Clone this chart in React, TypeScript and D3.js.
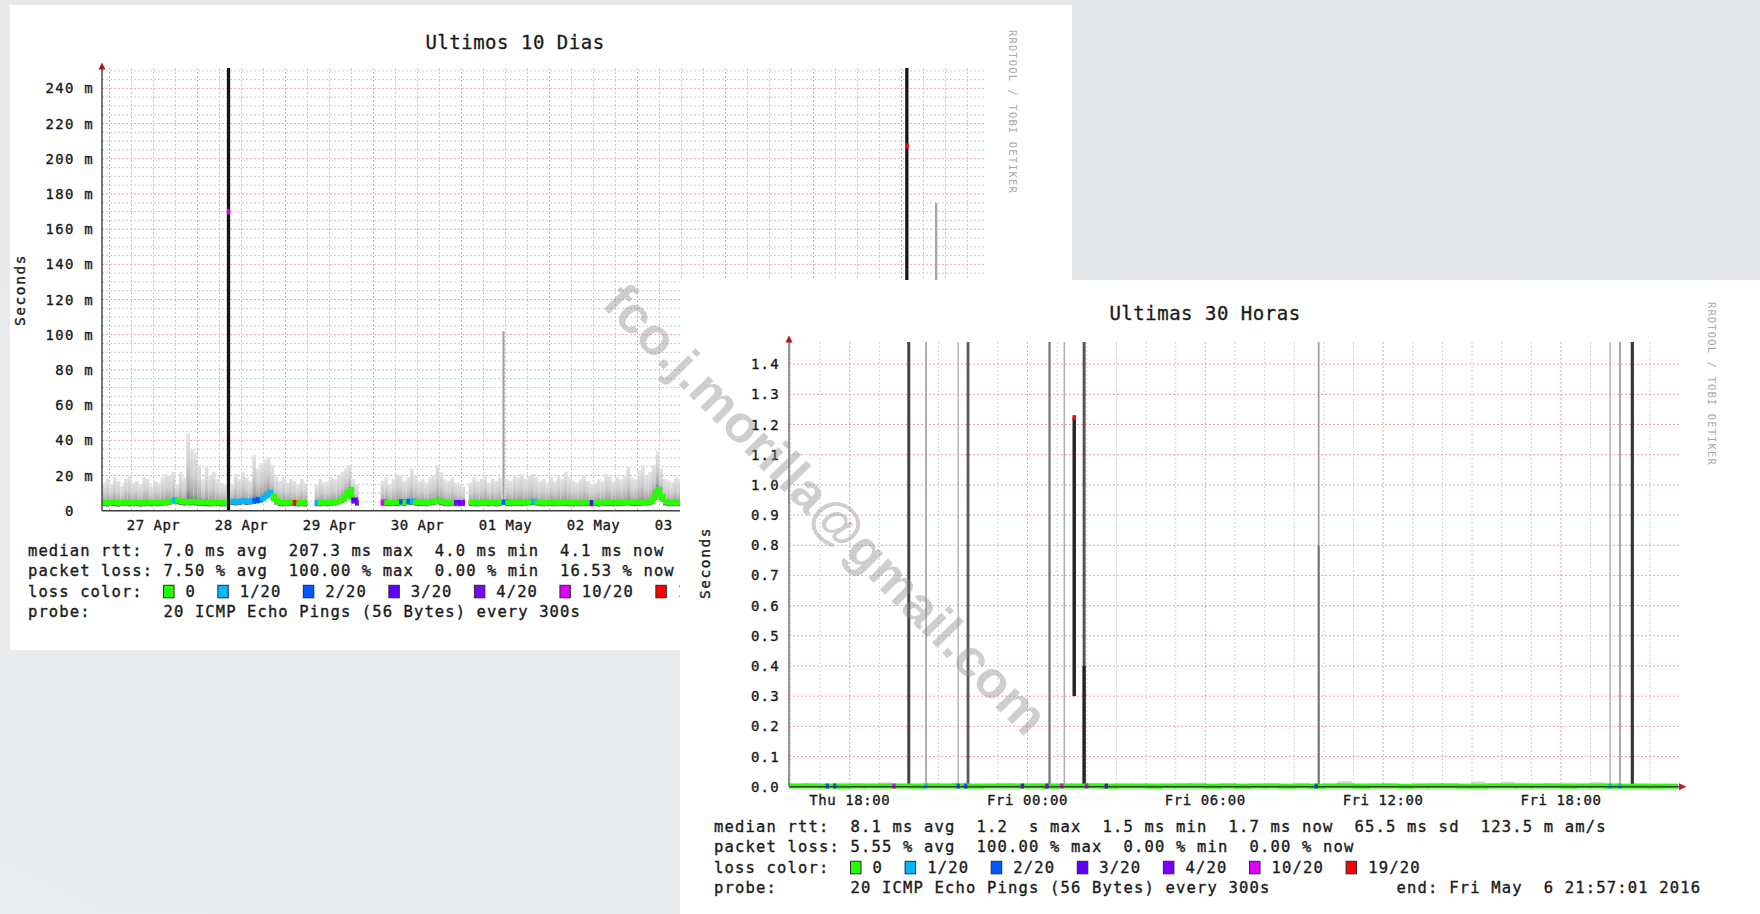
import React from 'react';
import * as d3 from 'd3';

const MONO = "'DejaVu Sans Mono', 'Liberation Mono', monospace";

// ---------- shared legend data ----------
const lossLabels = ['0', '1/20', '2/20', '3/20', '4/20', '10/20', '19/20'];
const lossColors = ['#26ff00', '#00b8ff', '#0059ff', '#5e00ff', '#7e00ff', '#dd00ff', '#ff0000'];

// ---------- "Ultimos 10 Dias" : hourly samples, milliseconds ----------
const tenDayStart = new Date(Date.UTC(2016, 3, 26, 21, 57, 1));
const tenDayEnd = new Date(Date.UTC(2016, 4, 6, 21, 57, 1));
const tenDayTop = 251.6;
const tenDayTicks = [0, 20, 40, 60, 80, 100, 120, 140, 160, 180, 200, 220, 240];
const tenDayMedian: (number | null)[] = [
  4.6, 4.4, 4.7, 4.5, 4.3, 4.6, 4.8, 4.4, 4.5, 4.6, 4.3, 4.5, 4.7, 4.4, 4.6, 4.5, 4.8, 5.0, 5.4, 6.0, 5.6, 5.2, 4.9, 5.1,
  5.2, 5.0, 4.8, 4.6, 4.5, 4.4, 4.5, 4.6, 4.4, 4.5, 170, 5.2, 5.0, 5.3, 5.6, 5.2, 5.5, 5.8, 6.2, 7.0, 8.5, 10.2, 8.0, 5.5,
  4.6, 4.4, 4.5, 4.7, 4.6, 4.4, 4.5, 4.4, null, null, 4.6, 4.5, 4.7, 4.5, 4.8, 5.0, 5.5, 6.5, 9.0, 12.0, 6.0, 4.8, null, null,
  null, null, null, null, 4.8, 4.6, 4.5, 4.7, 4.6, 5.0, 4.8, 5.2, 5.4, 4.9, 4.6, 4.8, 4.5, 5.0, 5.3, 5.6, 5.0, 4.6, 4.5, 4.7,
  4.6, 4.5, 4.6, null, 4.7, 4.5, 4.4, 4.6, 4.8, 4.5, 4.7, 4.4, 4.6, 4.8, 4.6, 4.5, 4.7, 4.8, 4.6, 4.9, 5.0, 5.2, 4.9, 4.6,
  4.5, 4.6, 4.7, 4.5, 4.6, 4.8, 4.7, 4.5, 4.4, 4.6, 4.5, 4.7, 4.6, 4.5, 4.6, 4.4, 4.6, 4.8, 4.7, 4.5, 4.6, 4.7, 4.9, 5.0,
  4.8, 4.6, 4.7, 4.9, 5.0, 5.2, 7.5, 12.0, 8.0, 5.0, 4.6, 4.5, 4.7, 4.6, 4.5, 4.7, 4.6, 4.8, 4.5, 4.6, 4.7, 4.5, 4.6, 4.8,
  4.6, 4.5, 4.7, 4.4, 4.6, 4.8, 4.5, 4.6, 4.4, 4.7, 4.5, 4.6, 4.8, 5.1, 4.7, 4.5, 4.6, 4.4, 4.5, 4.7, 4.6, 4.5, 4.8, 4.6,
  4.5, 4.7, 4.6, 4.4, 4.5, 4.8, 4.6, 4.5, 4.7, 4.6, 4.4, 4.5, 4.6, 4.7, 4.5, 4.8, 4.6, 4.4, 4.5, 4.6, 4.7, 4.5, 4.6, 4.4,
  4.5, 4.7, 4.6, 207.3, 4.8, 4.5, 4.4, 4.6, 4.5, 4.7, 4.6, 4.5, 4.4, 4.6, 4.5, 4.3, 4.4, 4.2, 4.3, 4.1, 4.2, 4.1, 4.0, 4.1,
];
const tenDayMax: (number | null)[] = [
  16, 18, 15, 19, 17, 14, 18, 20, 16, 17, 15, 19, 18, 14, 17, 16, 19, 21, 20, 22, 15, 22, 19, 44,
  35, 33, 26, 18, 25, 20, 22, 18, 16, 15, 300, 15, 21, 18, 22, 19, 17, 32, 24, 27, 29, 30, 26, 20,
  17, 19, 16, 18, 17, 15, 18, 16, null, null, 15, 18, 16, 17, 19, 18, 20, 22, 24, 26, 18, 15, null, null,
  null, null, null, null, 17, 19, 15, 18, 21, 20, 17, 19, 24, 20, 17, 18, 16, 19, 20, 26, 22, 18, 17, 19,
  16, 15, 14, null, 16, 19, 17, 18, 20, 16, 18, 17, 19, 102, 18, 17, 20, 19, 21, 18, 20, 21, 19, 17,
  18, 16, 19, 17, 20, 18, 22, 19, 17, 16, 18, 20, 17, 15, 16, 18, 17, 21, 20, 17, 19, 18, 20, 25,
  19, 18, 23, 26, 20, 22, 26, 34, 24, 18, 17, 16, 19, 18, 17, 19, 16, 18, 20, 17, 18, 19, 16, 18,
  17, 18, 16, 19, 20, 17, 18, 21, 16, 18, 19, 17, 16, 20, 18, 17, 19, 16, 18, 20, 17, 19, 18, 16,
  18, 17, 19, 16, 18, 20, 17, 18, 16, 19, 17, 18, 20, 16, 17, 19, 18, 16, 18, 17, 19, 18, 16, 17,
  18, 16, 19, 300, 17, 18, 16, 19, 17, 18, 16, 175, 17, 16, 18, 17, 15, 16, 14, 15, 16, 14, 15, 14,
];
const tenDayLoss: number[] = [
  0, 0, 0, 0, 0, 0, 0, 0, 0, 0, 0, 0, 0, 0, 0, 0, 0, 0, 0, 1, 0, 0, 0, 0,
  0, 0, 0, 0, 0, 0, 0, 0, 0, 0, 5, 1, 1, 1, 1, 1, 1, 2, 2, 1, 1, 1, 0, 0,
  0, 0, 0, 0, 6, 0, 0, 0, 0, 0, 1, 0, 0, 0, 0, 0, 0, 0, 0, 0, 3, 4, 0, 0,
  0, 0, 0, 0, 5, 0, 0, 0, 0, 2, 0, 2, 1, 0, 0, 0, 0, 0, 0, 0, 0, 0, 0, 0,
  4, 3, 4, 0, 0, 0, 0, 0, 0, 0, 0, 0, 0, 2, 0, 0, 0, 0, 0, 0, 0, 1, 0, 0,
  0, 0, 0, 0, 0, 0, 0, 0, 0, 0, 0, 0, 0, 3, 0, 0, 0, 0, 0, 0, 0, 0, 0, 0,
  0, 0, 0, 0, 0, 0, 0, 0, 0, 0, 0, 0, 0, 0, 0, 0, 0, 0, 0, 0, 0, 0, 0, 0,
  0, 0, 0, 0, 0, 0, 0, 0, 0, 0, 0, 0, 0, 1, 0, 0, 0, 0, 0, 0, 0, 0, 0, 0,
  0, 0, 0, 0, 0, 0, 0, 2, 0, 0, 0, 0, 0, 0, 0, 0, 0, 0, 0, 0, 0, 0, 0, 0,
  0, 0, 0, 6, 0, 0, 0, 0, 0, 0, 0, 0, 0, 0, 0, 0, 0, 0, 0, 0, 0, 0, 0, 3,
];
const tenDayStats = [
  'median rtt:  7.0 ms avg  207.3 ms max  4.0 ms min  4.1 ms now',
  'packet loss: 7.50 % avg  100.00 % max  0.00 % min  16.53 % now',
];
const tenDayProbe = 'probe:       20 ICMP Echo Pings (56 Bytes) every 300s';

// ---------- "Ultimas 30 Horas" : 30-min samples (ms), 5-min event slots ----------
const thirtyStart = new Date(Date.UTC(2016, 4, 5, 15, 57, 1));
const thirtyEnd = new Date(Date.UTC(2016, 4, 6, 21, 57, 1));
const thirtyTop = 1.4735;
const thirtyTicks = [0, 0.1, 0.2, 0.3, 0.4, 0.5, 0.6, 0.7, 0.8, 0.9, 1.0, 1.1, 1.2, 1.3, 1.4];
const thirtyMedian = [
  2.1, 2.0, 2.3, 1.9, 2.2, 2.4, 2.0, 2.1, 1.8, 2.3, 2.2, 2.0, 1.9, 2.4, 2.1, 2.0, 2.2, 1.9, 2.3, 2.1,
  2.0, 1.8, 2.2, 2.1, 1.9, 2.0, 2.3, 2.1, 1.8, 2.0, 1.9, 2.1, 2.2, 1.8, 2.0, 1.9, 2.1, 2.0, 1.8, 2.2,
  2.0, 1.9, 2.1, 2.3, 2.0, 1.8, 1.9, 2.1, 2.0, 2.2, 2.4, 2.1, 1.9, 2.0, 2.2, 1.8, 1.9, 1.7, 1.8, 1.7,
];
const thirtyMax = [
  11, 13, 10, 14, 12, 11, 15, 10, 12, 13, 11, 14, 12, 10, 13, 11, 12, 14, 10, 11,
  13, 12, 11, 10, 12, 11, 13, 14, 11, 12, 11, 10, 12, 11, 13, 10, 11, 19, 12, 11,
  12, 10, 11, 13, 12, 11, 18, 12, 17, 13, 11, 12, 14, 11, 16, 13, 10, 12, 11, 10,
];
const thirtySpikeSlot = [48, 55, 68, 72, 105, 111, 115, 119, 119, 214, 214, 332, 336, 341];
const thirtySpikeLow = [0, 0, 0, 0, 0, 0, 0.30, 0.40, 0, 0, 0.80, 0, 0, 0];
const thirtySpikeHigh = [1.5, 1.5, 1.5, 1.5, 1.5, 1.5, 1.223, 1.5, 0.40, 0.80, 1.5, 1.5, 1.5, 1.5];
const thirtySpikeShare = [0.78, 0.28, 0.18, 0.68, 0.5, 0.22, 0.95, 0.72, 0.95, 0.5, 0.3, 0.2, 0.3, 0.85];
const thirtyLossSlot = [15, 18, 42, 55, 68, 71, 94, 104, 110, 115, 120, 128, 213, 332, 336];
const thirtyLossLevel = [2, 2, 5, 1, 2, 2, 3, 4, 5, 6, 5, 3, 2, 1, 1];
const thirtyLossRtt = [2.0, 2.1, 2.0, 2.2, 2.0, 1.9, 2.1, 2.0, 2.2, 1223, 2.3, 2.0, 2.1, 1.9, 1.8];
const thirtyStats = [
  'median rtt:  8.1 ms avg  1.2  s max  1.5 ms min  1.7 ms now  65.5 ms sd  123.5 m am/s',
  'packet loss: 5.55 % avg  100.00 % max  0.00 % min  0.00 % now',
];
const thirtyProbe = 'probe:       20 ICMP Echo Pings (56 Bytes) every 300s            end: Fri May  6 21:57:01 2016';

const watermark = 'fco.j.morilla@gmail.com';
const credit = 'RRDTOOL / TOBI OETIKER';

// ---------- helpers ----------
type MonoProps = {
  x: number; y: number; size: number; cw: number; text: string;
  anchor?: 'start' | 'middle' | 'end'; fill?: string; transform?: string; baseline?: string; bold?: number;
};
const Mono = ({ x, y, size, cw, text, anchor = 'start', fill = '#1a1a1a', transform, baseline, bold = 0.35 }: MonoProps) => (
  <text
    x={x}
    y={y}
    fontFamily={MONO}
    fontSize={size}
    letterSpacing={+(cw - 0.602 * size).toFixed(2)}
    textAnchor={anchor}
    fill={fill}
    stroke={bold > 0 ? fill : undefined}
    strokeWidth={bold > 0 ? bold : undefined}
    transform={transform}
    dominantBaseline={baseline as any}
    style={{ whiteSpace: 'pre' }}
  >
    {text}
  </text>
);

const GRID_MINOR = '#cacaca';
const GRID_MAJOR = '#eba5a5';
const AXIS = '#3d3d3d';
const ARROW = '#b01818';

function Legend({ x0, y0, cw, gap, stats, probe }: { x0: number; y0: number; cw: number; gap: number; stats: string[]; probe: string }) {
  const size = 15.5;
  let bx = x0 + 13 * cw;
  const items = lossLabels.map((lab, k) => {
    const it = { bx, lx: bx + 2.1 * cw, lab, color: lossColors[k] };
    bx = it.lx + lab.length * cw + 2.1 * cw;
    return it;
  });
  const yLoss = y0 + 2 * gap;
  return (
    <g>
      {stats.map((s, k) => (
        <Mono key={k} x={x0} y={y0 + k * gap} size={size} cw={cw} text={s} />
      ))}
      <Mono x={x0} y={yLoss} size={size} cw={cw} text="loss color:" />
      {items.map((it, k) => (
        <g key={k}>
          <rect x={it.bx} y={yLoss - 11.5} width={cw} height={12.5} fill={it.color} stroke="#2a2a2a" strokeWidth={1} />
          <Mono x={it.lx} y={yLoss} size={size} cw={cw} text={it.lab} />
        </g>
      ))}
      <Mono x={x0} y={y0 + 3 * gap} size={size} cw={cw} text={probe} />
    </g>
  );
}

function medianPath(values: (number | null)[], xAt: (i: number) => number, y: (v: number) => number, i: number) {
  const v = values[i];
  if (v == null) return null;
  let d = `M${xAt(i)},${y(v)}H${xAt(i + 1)}`;
  const n = values[i + 1];
  if (n != null && Math.abs(n - v) < 15) d += `V${y(n)}`;
  return d;
}

// ---------- 10-day chart ----------
function TenDayChart() {
  const x = d3.scaleUtc().domain([tenDayStart, tenDayEnd]).range([102, 982]);
  const y = d3.scaleLinear().domain([0, tenDayTop]).range([510.7, 68]);
  const hour = 3600e3;
  const xAt = (i: number) => x(new Date(tenDayStart.getTime() + i * hour));
  const days = d3.utcDay.range(tenDayStart, tenDayEnd);
  const sixes = d3.utcHour.every(6)!.range(tenDayStart, tenDayEnd).filter((d) => d.getUTCHours() !== 0);
  const noons = days.map((d) => d3.utcHour.offset(d, 12)).filter((d) => d < tenDayEnd);
  const minorY = d3.range(5, tenDayTop, 5).filter((v) => v % 20 !== 0);
  const fmt = d3.utcFormat('%d %b');
  const tickCw = 9.7;

  return (
    <g>
      <rect x={10} y={5} width={1062} height={645} fill="#ffffff" />
      <Mono x={515} y={49} size={19} cw={11.95} text="Ultimos 10 Dias" anchor="middle" bold={0.3} />
      <Mono x={1013} y={30} size={10.5} cw={7.45} text={credit} fill="#ababab" transform="rotate(90 1013 30)" baseline="central" bold={0} />
      <Mono x={20} y={290} size={14.5} cw={10.3} text="Seconds" anchor="middle" baseline="central" transform="rotate(-90 20 290)" />
      {/* grid */}
      {minorY.map((v) => (
        <line key={'hm' + v} x1={102} x2={985} y1={y(v)} y2={y(v)} stroke={GRID_MINOR} strokeDasharray="2 2" />
      ))}
      {sixes.map((d) => (
        <line key={'vm' + +d} x1={x(d)} x2={x(d)} y1={68} y2={510.7} stroke={GRID_MINOR} strokeDasharray="2 2" />
      ))}
      {tenDayTicks.filter((v) => v > 0).map((v) => (
        <line key={'hM' + v} x1={102} x2={985} y1={y(v)} y2={y(v)} stroke={GRID_MAJOR} strokeDasharray="2 2" />
      ))}
      {days.map((d) => (
        <line key={'vM' + +d} x1={x(d)} x2={x(d)} y1={68} y2={510.7} stroke={GRID_MAJOR} strokeDasharray="2 2" />
      ))}
      {/* smoke */}
      {tenDayMedian.map((m, i) => {
        const mx = tenDayMax[i];
        if (m == null || mx == null) return null;
        const xa = xAt(i);
        const xb = xAt(i + 1);
        const top = y(Math.min(mx, tenDayTop));
        if (mx > 60 && tenDayLoss[i] >= 5) {
          return <rect key={i} x={xa + 0.2} width={xb - xa - 0.4} y={top} height={y(0) - top} fill="#151515" />;
        }
        if (mx > 60) {
          return <rect key={i} x={(xa + xb) / 2 - 1.1} width={2.2} y={top} height={y(m) - top} fill="#a4a4a4" />;
        }
        const bottom = y(Math.max(m - 2, 0.5));
        return <rect key={i} x={xa} width={xb - xa} y={top} height={bottom - top} fill="url(#smoke)" />;
      })}
      {/* median, coloured by loss */}
      {tenDayMedian.map((_, i) => {
        const d = medianPath(tenDayMedian, xAt, y, i);
        return d ? <path key={i} d={d} fill="none" stroke={lossColors[tenDayLoss[i]]} strokeWidth={5.4} /> : null;
      })}
      {/* axes */}
      <line x1={102} x2={985} y1={510.7} y2={510.7} stroke={AXIS} strokeWidth={1.4} />
      <line x1={102} x2={102} y1={510.7} y2={66} stroke={AXIS} strokeWidth={1.4} />
      <path d="M98.5,69.5L105.5,69.5L102,62.5Z" fill={ARROW} />
      <path d="M985,507.2L985,514.2L992,510.7Z" fill={ARROW} />
      {tenDayTicks.map((v) => (
        <Mono key={'yl' + v} x={v === 0 ? 94 - 2 * tickCw : 94} y={y(v)} size={14} cw={tickCw} text={v === 0 ? '0' : `${v} m`} anchor="end" baseline="central" />
      ))}
      {noons.map((d) => (
        <Mono key={'xl' + +d} x={x(d)} y={530} size={14} cw={8.9} text={fmt(d)} anchor="middle" />
      ))}
      <Legend x0={28} y0={556} cw={10.43} gap={20.4} stats={tenDayStats} probe={tenDayProbe} />
    </g>
  );
}

// ---------- 30-hour chart ----------
function ThirtyHourChart() {
  const x = d3.scaleUtc().domain([thirtyStart, thirtyEnd]).range([789, 1678]);
  const y = d3.scaleLinear().domain([0, thirtyTop]).range([786.7, 342]);
  const half = 30 * 60e3;
  const slot = 5 * 60e3;
  const xAt = (i: number) => x(new Date(thirtyStart.getTime() + i * half));
  const xSlot = (s: number) => x(new Date(thirtyStart.getTime() + s * slot));
  const hours = d3.utcHour.range(thirtyStart, thirtyEnd).filter((d) => d.getUTCHours() % 6 !== 0);
  const sixes = d3.utcHour.every(6)!.range(thirtyStart, thirtyEnd);
  const fmt = d3.utcFormat('%a %H:%M');
  const fmtY = d3.format('.1f');
  const ys = (ms: number) => y(ms / 1000);
  const shade = d3.interpolateRgb('#d8d8d8', '#1c1c1c');

  return (
    <g>
      <rect x={680} y={280} width={1080} height={634} fill="#ffffff" />
      <Mono x={1205} y={320} size={19} cw={11.95} text="Ultimas 30 Horas" anchor="middle" bold={0.3} />
      <Mono x={1712} y={302} size={10.5} cw={7.45} text={credit} fill="#ababab" transform="rotate(90 1712 302)" baseline="central" bold={0} />
      <Mono x={705} y={563} size={14.5} cw={10.3} text="Seconds" anchor="middle" baseline="central" transform="rotate(-90 705 563)" />
      {hours.map((d) => (
        <line key={'vm' + +d} x1={x(d)} x2={x(d)} y1={342} y2={786.7} stroke="#d2d2d2" strokeDasharray="2 2" />
      ))}
      {sixes.map((d) => (
        <line key={'vM' + +d} x1={x(d)} x2={x(d)} y1={342} y2={786.7} stroke={GRID_MAJOR} strokeDasharray="2 2" />
      ))}
      {thirtyTicks.filter((v) => v > 0).map((v) => (
        <line key={'hM' + v} x1={789} x2={1680} y1={y(v)} y2={y(v)} stroke={GRID_MAJOR} strokeDasharray="2 2" />
      ))}
      {/* smoke */}
      {thirtyMax.map((mx, i) => {
        const top = ys(mx);
        return <rect key={'s' + i} x={xAt(i)} width={xAt(i + 1) - xAt(i)} y={top} height={ys(0.5) - top} fill="url(#smoke)" />;
      })}
      {/* outlier smoke columns */}
      {thirtySpikeSlot.map((s, k) => {
        const xc = xSlot(s + 0.5);
        const w = 1 + 2.6 * thirtySpikeShare[k];
        const top = y(Math.min(thirtySpikeHigh[k], thirtyTop));
        const bot = y(thirtySpikeLow[k]);
        return <rect key={'p' + k} x={xc - w / 2} width={w} y={top} height={bot - top} fill={shade(thirtySpikeShare[k])} />;
      })}
      {/* median */}
      {thirtyMedian.map((_, i) => {
        const d = medianPath(thirtyMedian, xAt, ys, i);
        return d ? <path key={'m' + i} d={d} fill="none" stroke={lossColors[0]} strokeWidth={5} /> : null;
      })}
      {thirtyLossSlot.map((s, k) => (
        <line key={'l' + k} x1={xSlot(s) - 0.5} x2={xSlot(s + 1) + 0.5} y1={ys(thirtyLossRtt[k])} y2={ys(thirtyLossRtt[k])} stroke={lossColors[thirtyLossLevel[k]]} strokeWidth={5} />
      ))}
      {/* axes */}
      <line x1={789} x2={1680} y1={786.7} y2={786.7} stroke={AXIS} strokeWidth={1.4} />
      <line x1={789} x2={789} y1={786.7} y2={340} stroke="#777" strokeWidth={1.6} />
      <path d="M785.5,342.5L792.5,342.5L789,335.5Z" fill={ARROW} />
      <path d="M1679,783.2L1679,790.2L1686.5,786.7Z" fill="#c81830" />
      {thirtyTicks.map((v) => (
        <Mono key={'yl' + v} x={780} y={y(v)} size={14} cw={9.7} text={fmtY(v)} anchor="end" baseline="central" />
      ))}
      {sixes.map((d) => (
        <Mono key={'xl' + +d} x={x(d)} y={805} size={14} cw={9.0} text={fmt(d)} anchor="middle" />
      ))}
      <Legend x0={714} y0={832} cw={10.5} gap={20.4} stats={thirtyStats} probe={thirtyProbe} />
    </g>
  );
}

export default function App() {
  return (
    <svg width={1760} height={914} viewBox="0 0 1760 914" style={{ position: 'absolute', left: 0, top: 0, display: 'block' }}>
      <defs>
        <linearGradient id="bg" x1="1" y1="0" x2="0" y2="1">
          <stop offset="0" stopColor="#e3e6e9" />
          <stop offset="1" stopColor="#ebeced" />
        </linearGradient>
        <linearGradient id="smoke" x1="0" y1="0" x2="0" y2="1">
          <stop offset="0" stopColor="#e4e4e4" />
          <stop offset="0.45" stopColor="#cecece" />
          <stop offset="0.78" stopColor="#a8a8a8" />
          <stop offset="0.93" stopColor="#747474" />
          <stop offset="1" stopColor="#555555" />
        </linearGradient>
      </defs>
      <rect x={0} y={0} width={1760} height={914} fill="url(#bg)" />
      <TenDayChart />
      <ThirtyHourChart />
      <text
        x={826}
        y={509}
        textAnchor="middle"
        dominantBaseline="central"
        fontFamily="'Liberation Sans', Arial, sans-serif"
        fontWeight="bold"
        fontSize={52}
        textLength={607}
        lengthAdjust="spacingAndGlyphs"
        fill="#8c8c8c"
        opacity={0.42}
        transform="rotate(45.5 826 509)"
      >
        {watermark}
      </text>
    </svg>
  );
}
